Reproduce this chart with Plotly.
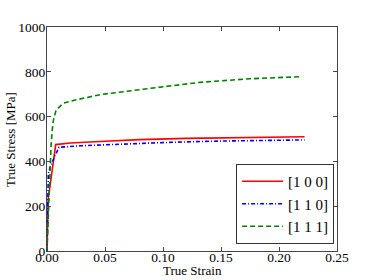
import plotly.graph_objects as go

strain_100 = [0, 0.001, 0.0075, 0.02, 0.05, 0.08, 0.12, 0.16, 0.2, 0.222]
stress_100 = [0, 230, 475, 482, 490, 497, 503, 507, 509, 510]

strain_110 = [0, 0.0011, 0.003, 0.0103, 0.03, 0.06, 0.1, 0.14, 0.18, 0.222]
stress_110 = [0, 345, 380, 463, 470, 477, 484, 490, 494, 496]

strain_111 = [0, 0.002, 0.0035, 0.0045, 0.0055, 0.0078, 0.014, 0.0227, 0.037,
              0.0457, 0.0888, 0.132, 0.175, 0.218]
stress_111 = [0, 300, 470, 540, 583, 628, 660, 672, 689, 698, 726, 753, 769, 778]

labels = ["[1 0 0]", "[1 1 0]", "[1 1 1]"]
x_ticks = [0, 0.05, 0.10, 0.15, 0.20, 0.25]
x_ticktext = ["0.00", "0.05", "0.10", "0.15", "0.20", "0.25"]
y_ticks = [0, 200, 400, 600, 800, 1000]
x_title = "True Strain"
y_title = "True Stress [MPa]"

font_family = "Liberation Serif, Times New Roman, serif"

fig = go.Figure()
fig.add_trace(go.Scatter(x=strain_100, y=stress_100, mode="lines", name=labels[0],
                         line=dict(color="red", width=1.6)))
fig.add_trace(go.Scatter(x=strain_110, y=stress_110, mode="lines", name=labels[1],
                         line=dict(color="blue", width=1.6, dash="4px,2px,1px,2px")))
fig.add_trace(go.Scatter(x=strain_111, y=stress_111, mode="lines", name=labels[2],
                         line=dict(color="green", width=1.6, dash="5px,3px")))

axis_common = dict(showline=True, linecolor="#444", linewidth=1, mirror="ticks",
                   ticks="inside", ticklen=4, tickcolor="#444", showgrid=False,
                   zeroline=False, automargin=False,
                   tickfont=dict(family=font_family, size=13.5, color="black"))

fig.update_layout(
    width=374, height=280,
    margin=dict(l=47, r=37, t=27, b=29),
    paper_bgcolor="white", plot_bgcolor="white",
    font=dict(family=font_family, color="black"),
    showlegend=True,
    legend=dict(x=0.99, y=0.031, xanchor="right", yanchor="bottom",
                bordercolor="#333", borderwidth=1, bgcolor="white",
                font=dict(family=font_family, size=15, color="black"),
                itemwidth=41),
    xaxis=dict(range=[0, 0.25], tickvals=x_ticks, ticktext=x_ticktext,
               ticklabelstandoff=-6, **axis_common),
    yaxis=dict(range=[0, 1000], tickvals=y_ticks,
               ticklabelstandoff=-2, **axis_common),
    annotations=[
        dict(text=x_title, xref="paper", yref="paper", x=0.5, y=-0.085,
             xanchor="center", yanchor="middle", showarrow=False,
             font=dict(family=font_family, size=13, color="black")),
        dict(text=y_title, xref="paper", yref="paper", x=-0.1276, y=0.5,
             xanchor="center", yanchor="middle", showarrow=False, textangle=-90,
             font=dict(family=font_family, size=13, color="black")),
    ],
)

# remove the default 8px page margin so the figure fills the window exactly
fig.write_html("out.html", config={"displayModeBar": False},
               post_script="document.body.style.margin='0';")
